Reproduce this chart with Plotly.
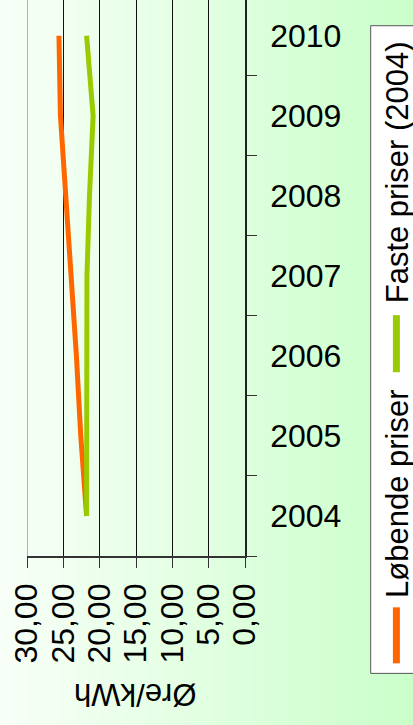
import plotly.graph_objects as go

years = ["2004", "2005", "2006", "2007", "2008", "2009", "2010"]
lobende = [21.8, 22.6, 23.2, 23.9, 24.6, 25.4, 25.6]
faste = [21.8, 21.8, 21.8, 21.75, 21.4, 20.9, 21.8]
value_ticks = [0, 5, 10, 15, 20, 25, 30]
value_tick_text = ["0,00", "5,00", "10,00", "15,00", "20,00", "25,00", "30,00"]
series_names = ["Løbende priser", "Faste priser (2004)"]
axis_title = "Øre/kWh"

W, H = 413, 725
PL, PR, PT, PB = 27.3, 245.3, 0.0, 555.7
FONT = "Liberation Sans, Arial, sans-serif"
FS = 31
TFS = 32


def px(x):
    return (x - PL) / (PR - PL)


def py(y):
    return (PB - y) / (PB - PT)


fig = go.Figure()
fig.add_trace(go.Scatter(x=lobende, y=years, mode="lines", name=series_names[0],
                         line=dict(color="#FF6600", width=5), showlegend=False))
fig.add_trace(go.Scatter(x=faste, y=years, mode="lines", name=series_names[1],
                         line=dict(color="#99CC00", width=5), showlegend=False))

shapes = []
# background gradient
n = 70
c0 = (248, 255, 248)
c1 = (202, 255, 202)
for i in range(n):
    t = (i + 0.5) / n
    c = tuple(round(c0[k] + (c1[k] - c0[k]) * t) for k in range(3))
    x0 = W * i / n
    x1 = W * (i + 1) / n + 0.6
    shapes.append(dict(type="rect", xref="paper", yref="paper", x0=px(x0), x1=px(x1),
                       y0=py(H + 2), y1=py(-2), fillcolor="rgb(%d,%d,%d)" % c,
                       line=dict(width=0), layer="below"))
# plot border on the left
shapes.append(dict(type="line", xref="x", yref="paper", x0=30, x1=30, y0=0, y1=1.01,
                   line=dict(color="#9a9a9a", width=1.5), layer="above"))
# legend box
shapes.append(dict(type="rect", xref="paper", yref="paper", x0=px(371), x1=px(440),
                   y0=py(673), y1=py(25.7), fillcolor="white",
                   line=dict(color="#555555", width=1), layer="above"))
shapes.append(dict(type="line", xref="paper", yref="paper", x0=px(396.7), x1=px(396.7),
                   y0=py(372), y1=py(315), line=dict(color="#99CC00", width=7), layer="above"))
shapes.append(dict(type="line", xref="paper", yref="paper", x0=px(396.7), x1=px(396.7),
                   y0=py(663), y1=py(607), line=dict(color="#FF6600", width=7), layer="above"))

annotations = [
    dict(text=series_names[1], xref="paper", yref="paper", x=px(398), y=py(172.5),
         textangle=-90, showarrow=False, xanchor="center", yanchor="middle",
         font=dict(family=FONT, size=FS, color="black")),
    dict(text=series_names[0], xref="paper", yref="paper", x=px(398), y=py(493),
         textangle=-90, showarrow=False, xanchor="center", yanchor="middle",
         font=dict(family=FONT, size=FS, color="black")),
    dict(text=axis_title, xref="paper", yref="paper", x=px(136), y=py(694),
         textangle=180, showarrow=False, xanchor="center", yanchor="middle",
         font=dict(family=FONT, size=FS, color="black")),
]

fig.update_layout(
    width=W, height=H,
    margin=dict(l=PL, r=W - PR, t=PT, b=H - PB, pad=0),
    paper_bgcolor="#CCFFCC",
    plot_bgcolor="rgba(0,0,0,0)",
    shapes=shapes,
    annotations=annotations,
    showlegend=False,
    font=dict(family=FONT, size=FS, color="black"),
    xaxis=dict(range=[30, 0], tickvals=value_ticks, ticktext=value_tick_text,
               tickangle=-90, ticks="outside", ticklen=10, tickcolor="#333333",
               showline=True, linecolor="#333333", linewidth=1.5,
               showgrid=True, gridcolor="#111111", gridwidth=1, zeroline=False,
               ticklabelstandoff=3, tickfont=dict(family=FONT, size=TFS, color="black")),
    yaxis=dict(type="category", categoryorder="array", categoryarray=years,
               range=[-0.5, 6.446], side="right", tickson="boundaries",
               ticks="outside", ticklen=10, tickcolor="#333333",
               showline=True, linecolor="#222222", linewidth=1.5,
               showgrid=False, zeroline=False, ticklabelstandoff=17,
               tickfont=dict(family=FONT, size=TFS, color="black")),
)

fig.write_html("out.html", config={"displayModeBar": False},
               post_script="document.body.style.margin='0px';document.body.style.overflow='hidden';")
